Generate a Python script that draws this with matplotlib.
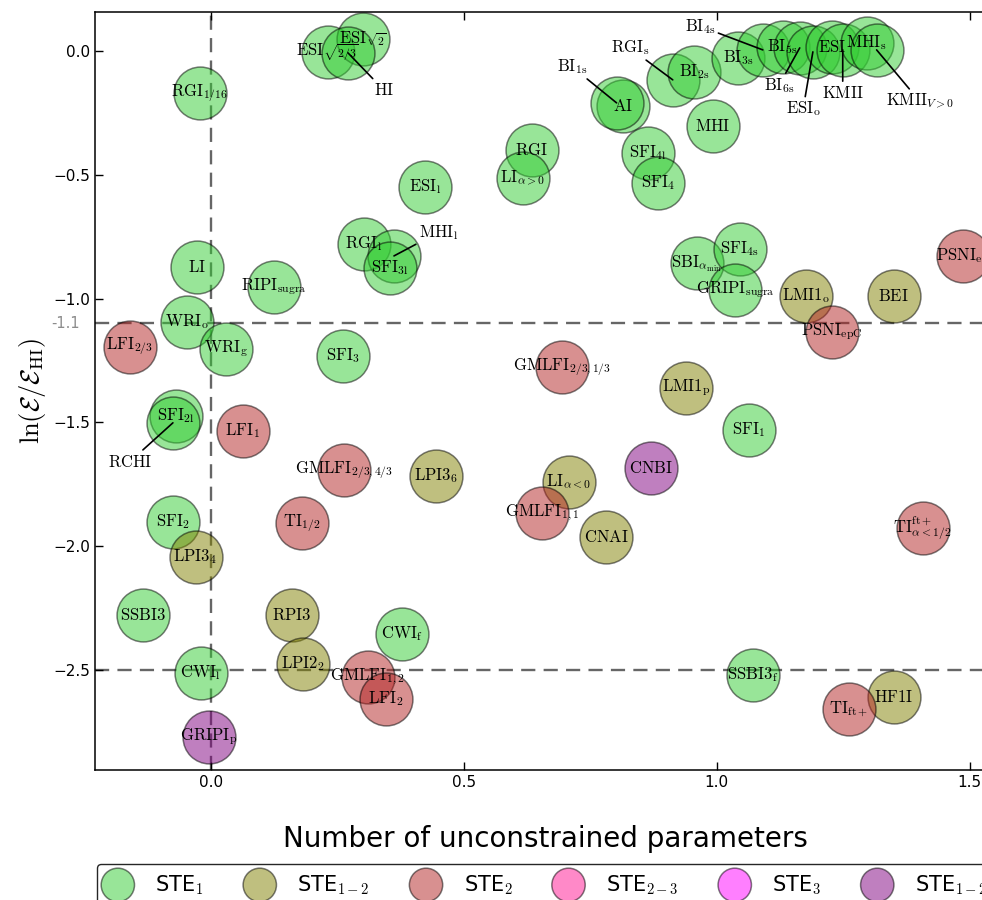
import matplotlib
matplotlib.use('Agg')
import matplotlib.pyplot as plt
import matplotlib.patches as mpatches
from matplotlib.legend_handler import HandlerPatch

plt.rcParams['mathtext.fontset'] = 'cm'

# ---- groups (legend) ----
ste_keys = ['STE1', 'STE12', 'STE2', 'STE23', 'STE3', 'STE123']
ste_labels = ['STE$_1$', 'STE$_{1-2}$', 'STE$_2$', 'STE$_{2-3}$', 'STE$_3$', 'STE$_{1-2-3}$']
ste_colors = ['limegreen', 'olive', 'firebrick', 'deeppink', 'magenta', 'purple']

# ---- models ----
names = [
    # STE1
    r'$\mathrm{RGI}_{1/16}$', r'$\mathrm{ESI}_{\sqrt{2/3}}$', r'$\mathrm{ESI}_{\sqrt{2}}$', r'$\mathrm{HI}$',
    r'$\mathrm{ESI}_{\rm l}$', r'$\mathrm{RGI}$', r'$\mathrm{LI}_{\alpha>0}$', r'$\mathrm{RGI}_{\rm l}$',
    r'$\mathrm{MHI}_{\rm l}$', r'$\mathrm{SFI}_{\rm 3l}$', r'$\mathrm{LI}$', r'$\mathrm{RIPI}_{\rm sugra}$',
    r'$\mathrm{WRI}_{\rm o}$', r'$\mathrm{WRI}_{\rm g}$', r'$\mathrm{SFI}_3$', r'$\mathrm{SFI}_{\rm 2l}$',
    r'$\mathrm{RCHI}$', r'$\mathrm{SFI}_2$', r'$\mathrm{SSBI3}$', r'$\mathrm{CWI}_{\rm f}$',
    r'$\mathrm{CWI}_{\rm l}$', r'$\mathrm{AI}$', r'$\mathrm{BI}_{\rm 1s}$', r'$\mathrm{RGI}_{\rm s}$',
    r'$\mathrm{BI}_{\rm 2s}$', r'$\mathrm{BI}_{\rm 3s}$', r'$\mathrm{BI}_{\rm 4s}$', r'$\mathrm{BI}_{\rm 5s}$',
    r'$\mathrm{BI}_{\rm 6s}$', r'$\mathrm{ESI}_{\rm o}$', r'$\mathrm{ESI}$', r'$\mathrm{KMII}$',
    r'$\mathrm{MHI}_{\rm s}$', r'$\mathrm{KMII}_{V>0}$', r'$\mathrm{MHI}$', r'$\mathrm{SFI}_{\rm 4l}$',
    r'$\mathrm{SFI}_4$', r'$\mathrm{SBI}_{\alpha_{\rm min}}$', r'$\mathrm{SFI}_{\rm 4s}$', r'$\mathrm{GRIPI}_{\rm sugra}$',
    r'$\mathrm{SFI}_1$', r'$\mathrm{SSBI3}_{\rm f}$',
    # STE1-2
    r'$\mathrm{LPI3}_4$', r'$\mathrm{LPI3}_6$', r'$\mathrm{RPI3}$', r'$\mathrm{LPI2}_2$',
    r'$\mathrm{LMI1}_{\rm o}$', r'$\mathrm{BEI}$', r'$\mathrm{LMI1}_{\rm p}$', r'$\mathrm{LI}_{\alpha<0}$',
    r'$\mathrm{CNAI}$', r'$\mathrm{HF1I}$',
    # STE2
    r'$\mathrm{LFI}_{2/3}$', r'$\mathrm{LFI}_1$', r'$\mathrm{GMLFI}_{2/3,4/3}$', r'$\mathrm{TI}_{1/2}$',
    r'$\mathrm{GMLFI}_{1,2}$', r'$\mathrm{LFI}_2$', r'$\mathrm{PSNI}_{\rm ep}$', r'$\mathrm{PSNI}_{\rm epC}$',
    r'$\mathrm{GMLFI}_{2/3,1/3}$', r'$\mathrm{GMLFI}_{1,1}$', r'$\mathrm{TI}^{\rm ft+}_{\alpha<1/2}$', r'$\mathrm{TI}_{\rm ft+}$',
    # STE1-2-3
    r'$\mathrm{GRIPI}_{\rm p}$', r'$\mathrm{CNBI}$',
]
x_vals = [
    -0.022, 0.231, 0.300, 0.271, 0.423, 0.634, 0.617, 0.302,
    0.362, 0.354, -0.028, 0.125, -0.047, 0.030, 0.261, -0.069,
    -0.075, -0.075, -0.134, 0.377, -0.020, 0.814, 0.802, 0.913,
    0.955, 1.042, 1.091, 1.130, 1.164, 1.190, 1.227, 1.249,
    1.296, 1.316, 0.992, 0.864, 0.884, 0.960, 1.045, 1.036,
    1.063, 1.071,
    -0.030, 0.445, 0.160, 0.182, 1.176, 1.350, 0.940, 0.707,
    0.782, 1.350,
    -0.160, 0.063, 0.263, 0.180, 0.310, 0.346, 1.486, 1.227,
    0.694, 0.654, 1.407, 1.261,
    -0.004, 0.870,
]
y_vals = [
    -0.170, -0.004, 0.048, -0.008, -0.549, -0.400, -0.513, -0.780,
    -0.828, -0.877, -0.872, -0.953, -1.094, -1.204, -1.232, -1.474,
    -1.502, -1.902, -2.278, -2.355, -2.512, -0.222, -0.210, -0.117,
    -0.084, -0.028, 0.004, 0.016, 0.012, -0.004, 0.016, 0.004,
    0.032, 0.004, -0.303, -0.412, -0.533, -0.857, -0.800, -0.965,
    -1.531, -2.520,
    -2.044, -1.716, -2.278, -2.476, -0.990, -0.990, -1.361, -1.741,
    -1.963, -2.609,
    -1.195, -1.535, -1.692, -1.906, -2.528, -2.617, -0.830, -1.135,
    -1.276, -1.866, -1.927, -2.657,
    -2.770, -1.684,
]
groups = ['STE1'] * 42 + ['STE12'] * 10 + ['STE2'] * 12 + ['STE123'] * 2

# labels moved off their circle with a leader line (offset in points)
callouts = {
    r'$\mathrm{HI}$': (26, -27),
    r'$\mathrm{MHI}_{\rm l}$': (32, 17),
    r'$\mathrm{RCHI}$': (-31, -28),
    r'$\mathrm{BI}_{\rm 1s}$': (-32, 26),
    r'$\mathrm{RGI}_{\rm s}$': (-31, 23),
    r'$\mathrm{BI}_{\rm 4s}$': (-45, 17),
    r'$\mathrm{BI}_{\rm 6s}$': (-15, -27),
    r'$\mathrm{ESI}_{\rm o}$': (-7, -41),
    r'$\mathrm{KMII}$': (0, -31),
    r'$\mathrm{KMII}_{V>0}$': (31, -37),
}

fig = plt.figure(figsize=(9.82, 9.0), dpi=100)
ax = fig.add_axes([95 / 982, 130 / 900, 900 / 982, 758 / 900])

# reference lines
dash = (0, (6, 3.5))
ax.axvline(0.0, color='0.4', lw=1.7, ls=dash, zorder=1)
ax.axhline(-1.1, color='0.4', lw=1.7, ls=dash, zorder=1)
ax.axhline(-2.5, color='0.4', lw=1.7, ls=dash, zorder=1)

col_of = dict(zip(ste_keys, ste_colors))
for key in ste_keys:
    xs = [x for x, g in zip(x_vals, groups) if g == key]
    ys = [y for y, g in zip(y_vals, groups) if g == key]
    if xs:
        ax.scatter(xs, ys, s=1450, color=col_of[key], alpha=0.5,
                   edgecolors='k', linewidths=1.1, zorder=2)

for name, x, y in zip(names, x_vals, y_vals):
    if name in callouts:
        ax.annotate(name, xy=(x, y), xytext=callouts[name], textcoords='offset points',
                    ha='center', va='center', fontsize=12, zorder=4,
                    arrowprops=dict(arrowstyle='-', color='k', lw=1.2,
                                    shrinkA=0, shrinkB=0))
    else:
        ax.text(x, y, name, ha='center', va='center', fontsize=12, zorder=4)

ax.annotate('-1.1', xy=(0, -1.1), xycoords=ax.get_yaxis_transform(),
            xytext=(-11, 0), textcoords='offset points', ha='right', va='center',
            fontsize=10.5, color='0.55', annotation_clip=False)

ax.set_xlim(-0.229, 1.55)
ax.set_ylim(-2.904, 0.157)
ax.set_xticks([0.0, 0.5, 1.0, 1.5])
ax.set_yticks([0.0, -0.5, -1.0, -1.5, -2.0, -2.5])
ax.tick_params(direction='in', top=True, right=True, length=6, width=1, labelsize=11)
for sp in ax.spines.values():
    sp.set_linewidth(1.1)

ax.set_xlabel('Number of unconstrained parameters', fontsize=20, labelpad=25)
ax.set_ylabel(r'$\ln(\mathcal{E}/\mathcal{E}_{\rm HI})$', fontsize=19)


def make_ellipse(legend, orig_handle, xdescent, ydescent, width, height, fontsize):
    return mpatches.Ellipse((width / 2 - xdescent, height / 2 - ydescent), width, height)


handles = [mpatches.Ellipse((0, 0), 1, 1, facecolor=c, edgecolor='k', alpha=0.5, lw=1.1)
           for c in ste_colors]
fig.legend(handles, ste_labels, loc='upper left', bbox_to_anchor=(97 / 982, 1 - 864 / 900),
           borderaxespad=0, ncol=6, fontsize=15, handlelength=1.6, handleheight=2.1,
           handletextpad=1.0, columnspacing=1.9, borderpad=0.2, fancybox=True,
           edgecolor='0.15', framealpha=1,
           handler_map={mpatches.Ellipse: HandlerPatch(patch_func=make_ellipse)})

fig.savefig('out.png', dpi=100)
